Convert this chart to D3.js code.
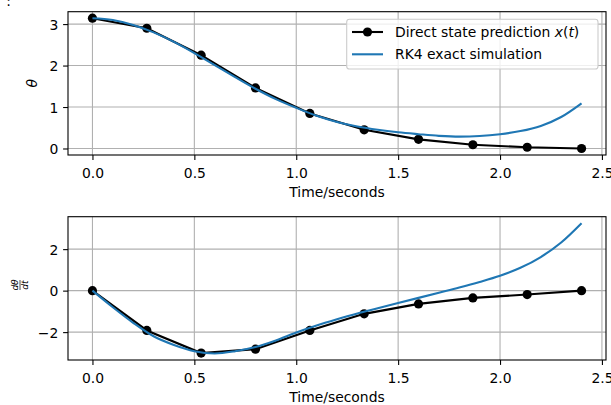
<!DOCTYPE html>
<html lang="en">
<head>
<meta charset="utf-8">
<title>Pendulum state prediction</title>
<script src="https://d3js.org/d3.v7.min.js"></script>
<style>
  body { margin: 0; background: #fff; }
  text { font-family: "DejaVu Sans", sans-serif; fill: #000; }
</style>
</head>
<body>
<script>
// direct prediction, sampled at 10 time steps
const predTimes = [0, 0.2667, 0.5333, 0.8, 1.0667, 1.3333, 1.6, 1.8667, 2.1333, 2.4];
const predTheta = [3.1416, 2.90, 2.25, 1.46, 0.845, 0.45, 0.22, 0.09, 0.03, 0.0];
const predOmega = [0, -1.92, -3.01, -2.82, -1.92, -1.12, -0.64, -0.35, -0.19, 0.0];

// RK4 simulation
const simTimes = [0, 0.1, 0.2, 0.3, 0.4, 0.5, 0.6, 0.7, 0.8, 0.9, 1.0, 1.1, 1.2,
                  1.3, 1.4, 1.5, 1.6, 1.7, 1.8, 1.9, 2.0, 2.1, 2.2, 2.3, 2.4];
const simTheta = [3.1416, 3.10, 2.98, 2.80, 2.57, 2.30, 2.01, 1.72, 1.44, 1.19, 0.98, 0.79, 0.64,
                  0.53, 0.45, 0.39, 0.345, 0.305, 0.285, 0.30, 0.345, 0.42, 0.545, 0.76, 1.09];
const simOmega = [0, -0.8, -1.55, -2.2, -2.62, -2.92, -3.03, -2.92, -2.72, -2.4, -2.02, -1.68, -1.38,
                  -1.1, -0.85, -0.6, -0.35, -0.1, 0.15, 0.42, 0.72, 1.1, 1.62, 2.32, 3.25];

const xTicks = [0, 0.5, 1.0, 1.5, 2.0, 2.5];
const thetaTicks = [0, 1, 2, 3];
const omegaTicks = [-2, 0, 2];

const width = 611;
const height = 405;
const left = 68, right = 606;
const blue = "#1f77b4";
const grid = "#b0b0b0";

const svg = d3.select("body")
    .append("svg")
    .attr("width", width)
    .attr("height", height)
    .style("background-color", "#fff");

// matplotlib style 5% margins
function padded(lo, hi) {
    const m = (hi - lo) * 0.05;
    return [lo - m, hi + m];
}

const xScale = d3.scaleLinear()
    .domain(padded(0, d3.max(simTimes)))
    .range([left, right]);

const fmtMinus = d => d3.format("d")(d).replace("-", "\u2212");

function drawPanel(top, bottom, yPred, ySim, yTicks) {
    const lo = Math.min(d3.min(yPred), d3.min(ySim));
    const hi = Math.max(d3.max(yPred), d3.max(ySim));
    const yScale = d3.scaleLinear().domain(padded(lo, hi)).range([bottom, top]);
    const g = svg.append("g");

    // grid
    g.selectAll(".vg").data(xTicks).enter().append("line")
        .attr("x1", d => xScale(d)).attr("x2", d => xScale(d))
        .attr("y1", top).attr("y2", bottom)
        .attr("stroke", grid).attr("stroke-width", 1.1);
    g.selectAll(".hg").data(yTicks).enter().append("line")
        .attr("x1", left).attr("x2", right)
        .attr("y1", d => yScale(d)).attr("y2", d => yScale(d))
        .attr("stroke", grid).attr("stroke-width", 1.1);

    // axes
    const bottomAxis = d3.axisBottom(xScale).tickValues(xTicks)
        .tickFormat(d3.format(".1f")).tickSizeOuter(0).tickSize(4.9).tickPadding(4.5);
    const leftAxis = d3.axisLeft(yScale).tickValues(yTicks)
        .tickFormat(fmtMinus).tickSizeOuter(0).tickSize(4.9).tickPadding(4.8);

    const ax = g.append("g").attr("transform", "translate(0," + bottom + ")").call(bottomAxis);
    ax.select(".domain").remove();
    ax.selectAll("line").attr("stroke", "#000").attr("stroke-width", 1.1);
    ax.selectAll("text").style("font-size", "13.9px").attr("dy", "0.95em")
        .style("font-family", "DejaVu Sans");

    const ay = g.append("g").attr("transform", "translate(" + left + ",0)").call(leftAxis);
    ay.select(".domain").remove();
    ay.selectAll("line").attr("stroke", "#000").attr("stroke-width", 1.1);
    ay.selectAll("text").style("font-size", "13.9px").attr("dy", "0.37em")
        .style("font-family", "DejaVu Sans");

    // lines
    const clipId = "clip" + Math.round(top);
    svg.append("clipPath").attr("id", clipId).append("rect")
        .attr("x", left).attr("y", top).attr("width", right - left).attr("height", bottom - top);
    const plot = g.append("g").attr("clip-path", "url(#" + clipId + ")");

    const predLine = d3.line().x((d, i) => xScale(predTimes[i])).y(d => yScale(d));
    plot.append("path").datum(yPred)
        .attr("d", predLine).attr("fill", "none")
        .attr("stroke", "#000").attr("stroke-width", 2.1);
    plot.selectAll(".dot").data(yPred).enter().append("circle")
        .attr("cx", (d, i) => xScale(predTimes[i])).attr("cy", d => yScale(d))
        .attr("r", 4.6).attr("fill", "#000");

    const simLine = d3.line().curve(d3.curveMonotoneX)
        .x((d, i) => xScale(simTimes[i])).y(d => yScale(d));
    plot.append("path").datum(ySim)
        .attr("d", simLine).attr("fill", "none")
        .attr("stroke", blue).attr("stroke-width", 2.1);

    // frame
    g.append("rect").attr("x", left).attr("y", top)
        .attr("width", right - left).attr("height", bottom - top)
        .attr("fill", "none").attr("stroke", "#000").attr("stroke-width", 1.1);

    g.append("text")
        .attr("x", (left + right) / 2).attr("y", bottom + 41.5)
        .attr("text-anchor", "middle").style("font-size", "13.9px")
        .text("Time/seconds");
    return g;
}

const topPanel = drawPanel(11.7, 155, predTheta, simTheta, thetaTicks);
const botPanel = drawPanel(216.7, 360, predOmega, simOmega, omegaTicks);

// y labels
svg.append("text")
    .attr("transform", "translate(37,83.3) rotate(-90)")
    .attr("text-anchor", "middle")
    .style("font-size", "13.9px").style("font-style", "italic")
    .text("\u03b8");

const frac = svg.append("g").attr("transform", "translate(20,285) rotate(-90)");
frac.append("text").attr("x", 0).attr("y", -1.6).attr("text-anchor", "middle")
    .style("font-size", "9px").style("font-style", "italic").text("d\u03b8");
frac.append("line").attr("x1", -5).attr("x2", 5).attr("y1", 0).attr("y2", 0)
    .attr("stroke", "#000").attr("stroke-width", 0.7);
frac.append("text").attr("x", 0).attr("y", 8.2).attr("text-anchor", "middle")
    .style("font-size", "9px").style("font-style", "italic").text("dt");

// leftover of a cut-off caption at top-left
svg.append("text").attr("x", 6.2).attr("y", 6.2)
    .style("font-size", "13.9px").text(":");

// legend
const legend = svg.append("g");
legend.append("rect")
    .attr("x", 346.7).attr("y", 19.3).attr("width", 251.3).attr("height", 49.7)
    .attr("rx", 2.8).attr("fill", "#fff").attr("fill-opacity", 0.8)
    .attr("stroke", "#cccccc").attr("stroke-width", 1.1);
legend.append("line").attr("x1", 352).attr("x2", 383).attr("y1", 32).attr("y2", 32)
    .attr("stroke", "#000").attr("stroke-width", 2.1);
legend.append("circle").attr("cx", 367.5).attr("cy", 32).attr("r", 4.6).attr("fill", "#000");
const t1 = legend.append("text").attr("x", 395).attr("y", 36.7).style("font-size", "13.9px");
t1.append("tspan").text("Direct state prediction ");
t1.append("tspan").style("font-style", "italic").text("x");
t1.append("tspan").text("(");
t1.append("tspan").style("font-style", "italic").text("t");
t1.append("tspan").text(")");
legend.append("line").attr("x1", 352).attr("x2", 383).attr("y1", 54.3).attr("y2", 54.3)
    .attr("stroke", blue).attr("stroke-width", 2.1);
legend.append("text").attr("x", 395).attr("y", 59).style("font-size", "13.9px")
    .text("RK4 exact simulation");
</script>
</body>
</html>
